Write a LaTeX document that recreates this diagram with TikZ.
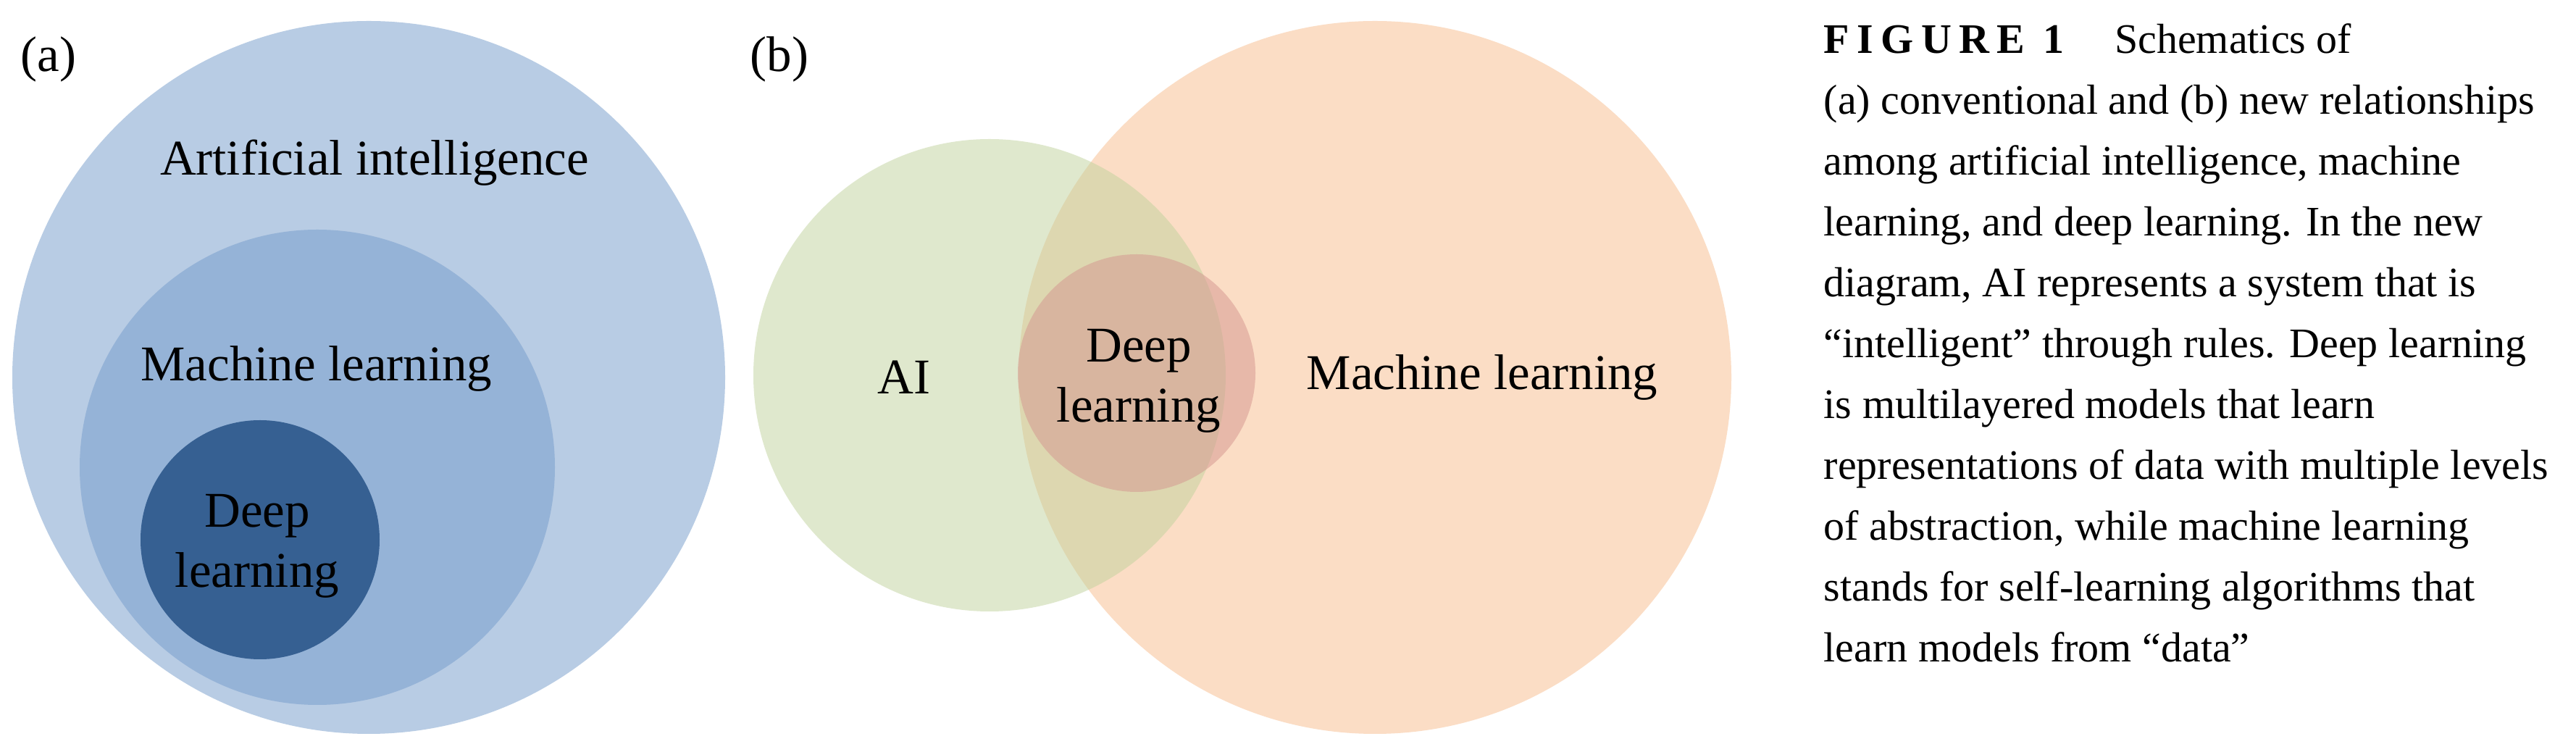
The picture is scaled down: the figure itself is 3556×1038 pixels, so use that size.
\documentclass[tikz,border=0pt]{standalone}
\usepackage{fontspec}
\setmainfont{Liberation Serif}
\newfontfamily\figfont[LetterSpace=18]{Liberation Serif}
\usepackage{xcolor}
\usetikzlibrary{positioning}
\definecolor{aiblue}{HTML}{B8CCE4}
\definecolor{mlblue}{HTML}{95B3D7}
\definecolor{dlblue}{HTML}{366092}
\definecolor{mlorange}{HTML}{FBDDC5}
\definecolor{aigreen}{HTML}{C1D39D}
\definecolor{dlpink}{HTML}{D5958F}
\tikzset{
	venn/.style={circle, inner sep=0pt, draw=none},
	tag/.style={font=\fontsize{17.25pt}{20.75pt}\selectfont, inner sep=0pt, align=center},
	caption/.style={font=\fontsize{14.5pt}{21pt}\selectfont, inner sep=0pt, align=left}
}

\begin{document}
\begin{tikzpicture}[
		x=0.25pt, y=0.25pt,
		panel/.style={tag, anchor=base}
		]
		\useasboundingbox (0,0) rectangle (3556,1038);
		\fill[white] (0,0) rectangle (3556,1038);
		
		% Panel (a) - nested circles
		\node[venn, fill=aiblue, minimum size=246pt] (aiA) at (509,517) {};
		\node[venn, fill=mlblue, minimum size=164pt] (mlA) at (438,393) {};
		\node[venn, fill=dlblue, minimum size=82.5pt] (dlA) at (359,293) {};
		
		\node[panel] (labA) at (67,939) {(a)};
		\node[panel] (aiA_text) at (517,796) {Artificial intelligence};
		\node[panel] (mlA_text) at (437,512) {Machine learning};
		\node[tag] (dlA_text) at (355,284) {Deep\\learning};
		
		% Panel (b) - overlapping circles
		\node[venn, fill=mlorange, minimum size=246pt] (mlB) at (1898,517) {};
		\node[venn, fill=aigreen, fill opacity=0.5, minimum size=163pt] (aiB) at (1366,520) {};
		\node[venn, fill=dlpink, fill opacity=0.5, minimum size=82pt] (dlB) at (1569,523) {};
		
		\node[panel] (labB) at (1076,939) {(b)};
		\node[panel] (aiB_text) at (1248,494) {AI};
		\node[tag] (dlB_text) at (1572,512) {Deep\\learning};
		\node[panel] (mlB_text) at (2046,500) {Machine learning};
		
		% Caption
		\node[caption, anchor=north west] (cap) at (2517,1006) {{\figfont\bfseries FIGURE 1}\hspace{1.2em}Schematics of\\
			(a) conventional and (b) new relationships\\
			among artificial intelligence, machine\\
			learning, and deep learning. In the new\\
			diagram, AI represents a system that is\\
			“intelligent” through rules. Deep learning\\
			is multilayered models that learn\\
			representations of data with multiple levels\\
			of abstraction, while machine learning\\
			stands for self-learning algorithms that\\
			learn models from “data”};
		
	\end{tikzpicture}
\end{document}
